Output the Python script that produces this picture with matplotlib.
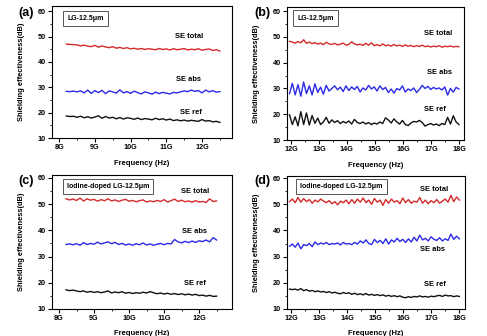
import numpy as np
import matplotlib
matplotlib.use("Agg")
import matplotlib.pyplot as plt
from matplotlib.ticker import MultipleLocator, FuncFormatter

plt.rcParams['font.family'] = ['Liberation Sans', 'DejaVu Sans']
plt.rcParams['font.weight'] = 'bold'

# ---------------- data ----------------
a_total = [47.0, 46.9, 46.8, 46.7, 46.3, 46.6, 46.2, 46.0, 46.5, 45.8, 46.3, 45.9, 45.6, 46.0, 45.4,
           45.7, 45.3, 45.6, 45.1, 45.4, 45.0, 45.3, 44.9, 45.2, 45.0, 44.8, 45.3, 44.9, 45.1, 44.7,
           45.2, 44.8, 45.0, 45.3, 44.7, 45.0, 44.8, 45.2, 44.6, 44.9, 45.1, 44.5, 44.8, 44.3]
a_abs = [28.4, 28.3, 28.5, 28.2, 28.6, 27.8, 28.9, 27.6, 28.7, 27.9, 28.8, 27.5, 28.6, 28.2, 27.7,
         29.0, 27.8, 28.3, 27.6, 28.5, 27.9, 27.4, 28.2, 27.8, 27.3, 28.1, 27.5, 28.0, 27.7, 27.4,
         28.0, 27.8, 28.2, 28.6, 28.3, 28.9, 28.4, 28.7, 27.8, 28.9, 28.2, 28.7, 28.1, 28.3]
a_ref = [18.7, 18.5, 18.6, 18.2, 18.6, 18.0, 18.4, 17.9, 18.3, 18.8, 17.8, 18.5, 17.9, 18.2, 17.6,
         18.1, 17.5, 18.0, 17.8, 17.4, 17.9, 17.3, 17.7, 17.5, 17.2, 17.8, 17.3, 17.6, 17.1, 17.5,
         16.9, 17.2, 16.8, 17.1, 16.7, 17.0, 16.8, 16.6, 17.3, 16.7, 16.9, 16.4, 16.6, 16.2]

b_total = [48.3, 48.0, 47.6, 48.2, 47.7, 48.9, 47.5, 48.0, 47.4, 47.8, 47.2, 47.6, 47.0, 47.9, 47.3,
           47.1, 47.5, 46.9, 47.2, 47.6, 46.8, 47.1, 48.1, 47.3, 46.9, 47.2, 46.7, 47.5, 46.8, 47.7,
           46.6, 47.0, 46.5, 47.3, 46.6, 46.9, 46.4, 47.1, 46.5, 46.8, 46.3, 46.9, 46.4, 46.7, 46.2,
           46.6, 46.3, 46.8, 46.2, 46.5, 46.1, 46.4, 46.2, 46.6, 46.0, 46.4, 46.2, 46.5, 46.1, 46.3, 46.2]
b_abs = [28.0, 32.0, 27.5, 31.5, 27.0, 32.5, 28.0, 31.0, 27.5, 31.8, 28.5, 30.5, 27.8, 31.2, 29.0,
         30.0, 31.0, 29.5, 30.5, 28.8, 31.0, 29.2, 30.6, 29.6, 30.8, 28.6, 30.2, 29.4, 31.2, 29.8,
         30.6, 29.0, 31.0, 29.6, 30.4, 28.4, 29.8, 28.2, 30.0, 29.4, 31.0, 28.6, 29.8, 29.2, 30.2,
         28.4, 29.6, 31.2, 30.0, 30.8, 29.6, 30.4, 29.8, 30.2, 29.4, 30.6, 27.4, 30.0, 28.6, 30.4, 29.8]
b_ref = [19.8, 16.0, 19.0, 15.5, 21.0, 16.0, 20.5, 15.8, 19.5, 16.5, 18.5, 16.0, 17.0, 18.8, 16.5,
         17.8, 16.8, 17.5, 16.4, 17.2, 16.6, 17.4, 16.2, 18.0, 16.8, 16.4, 17.0, 16.2, 16.8, 16.0,
         16.6, 16.2, 17.0, 16.4, 18.6, 17.8, 16.6, 18.2, 17.0, 16.2, 17.6, 16.0, 15.6, 16.6, 17.2,
         17.0, 17.6, 16.8, 15.4, 16.0, 16.4, 15.8, 16.2, 15.6, 16.4, 16.0, 18.8, 16.2, 19.4, 17.0, 16.0]

c_total = [52.0, 51.6, 51.9, 51.4, 52.3, 51.2, 52.0, 51.5, 51.8, 51.1, 51.7, 51.3, 52.0, 51.2, 51.6,
           51.0, 51.5, 51.8, 51.1, 51.4, 50.9, 51.3, 51.6, 50.8, 51.2, 50.9, 51.4, 51.0, 51.7, 50.8,
           51.3, 51.9, 51.0, 51.5, 50.9, 51.2, 50.7, 51.3, 50.8, 51.0, 50.6, 52.0, 51.0, 51.2]
c_abs = [34.6, 34.8, 34.5, 34.9, 34.3, 35.3, 34.6, 35.0, 34.7, 35.5, 34.8, 35.2, 35.6, 34.9, 35.4,
         34.6, 35.0, 34.4, 34.8, 34.3, 34.9, 34.5, 35.2, 34.4, 34.8, 34.3, 34.7, 35.0, 34.5, 35.0,
         34.8, 36.5, 35.6, 35.2, 35.8, 35.3, 35.9, 35.4, 36.0, 35.7, 36.3, 35.6, 37.2, 36.3]
c_ref = [17.3, 17.0, 17.2, 16.9, 16.6, 16.9, 16.4, 16.7, 16.3, 16.6, 16.2, 16.5, 16.9, 16.1, 16.5,
         16.2, 16.6, 16.0, 16.3, 15.9, 16.2, 16.0, 16.4, 16.1, 16.6, 16.2, 15.8, 16.1, 15.7, 16.0,
         15.6, 15.9, 15.5, 15.8, 15.4, 15.7, 15.3, 15.6, 15.1, 15.3, 14.9, 15.2, 14.8, 14.9]

d_total = [51.0, 52.0, 50.6, 52.6, 50.8, 52.2, 51.0, 51.8, 50.4, 51.6, 50.9, 52.0, 51.2, 50.6, 51.4,
           50.2, 51.0, 49.8, 51.2, 50.6, 51.6, 50.2, 51.8, 50.4, 52.0, 50.8, 52.4, 50.6, 51.6, 50.0,
           52.2, 50.8, 51.6, 49.6, 51.8, 50.4, 52.0, 50.8, 51.4, 50.2, 52.4, 50.6, 51.8, 50.4, 51.2,
           50.8, 52.6, 50.4, 51.6, 50.2, 51.4, 50.6, 51.8, 50.4, 51.2, 52.0, 50.8, 53.4, 51.0, 52.8, 51.6]
d_abs = [34.0, 34.8, 33.6, 35.2, 33.0, 34.6, 34.2, 35.0, 33.8, 35.6, 34.6, 35.2, 34.8, 35.4, 34.6,
         35.0, 34.8, 35.2, 34.5, 35.4, 34.8, 35.0, 34.6, 35.4, 34.8, 36.0, 35.2, 36.4, 35.0, 34.6,
         36.6, 35.4, 36.2, 35.0, 36.8, 34.8, 36.4, 35.6, 37.0, 35.8, 36.6, 35.4, 36.8, 35.6, 37.4,
         36.0, 38.2, 36.4, 37.0, 36.0, 37.6, 36.6, 36.2, 37.2, 36.0, 36.8, 36.2, 38.6, 36.6, 37.8, 36.8]
d_ref = [17.6, 17.4, 17.6, 17.2, 17.8, 17.0, 17.4, 16.8, 17.1, 16.6, 16.9, 16.5, 16.7, 16.3, 16.6,
         16.1, 16.4, 16.0, 15.8, 16.3, 15.9, 16.2, 15.6, 16.0, 15.5, 15.8, 15.4, 15.9, 15.3, 15.6,
         15.2, 15.5, 15.1, 15.4, 14.9, 15.2, 14.8, 15.1, 14.7, 15.0, 14.5, 14.3, 14.7, 14.4, 14.8,
         14.6, 15.0, 14.6, 14.8, 14.5, 14.9, 14.7, 15.0, 15.2, 14.8, 15.3, 15.0, 15.1, 14.7, 15.0, 14.8]

x_range_low = (8.2, 12.5)
x_range_high = (11.95, 18.0)
xticks_low = [8, 9, 10, 11, 12]
xticks_high = [12, 13, 14, 15, 16, 17, 18]
yticks = [10, 20, 30, 40, 50, 60]

RED = '#d42a2a'
BLUE = '#2a2ae6'
BLACK = '#111111'

panels = [
    dict(letter='(a)', rect=[0.1068, 0.589, 0.3696, 0.393], xr=x_range_low, xt=xticks_low,
         xlim=(7.8, 12.84), ylim=(10, 62), series=(a_total, a_abs, a_ref), box='LG-12.5μm',
         boxpos=(8.73, 57.2), labels=[(11.25, 50.2, 'SE total'), (11.27, 33.2, 'SE abs'), (11.38, 20.2, 'SE ref')],
         letterpos=(18, 13), ylabx=25, xlaby=160),
    dict(letter='(b)', rect=[0.5893, 0.5833, 0.3634, 0.3958], xr=x_range_high, xt=xticks_high,
         xlim=(11.86, 18.18), ylim=(10, 61.6), series=(b_total, b_abs, b_ref), box='LG-12.5μm',
         boxpos=(12.88, 57.3), labels=[(16.75, 51.4, 'SE total'), (16.86, 36.2, 'SE abs'), (16.75, 21.7, 'SE ref')],
         letterpos=(254, 13), ylabx=260, xlaby=162),
    dict(letter='(c)', rect=[0.1068, 0.0804, 0.3696, 0.3988], xr=x_range_low, xt=xticks_low,
         xlim=(7.8, 12.94), ylim=(10, 61.1), series=(c_total, c_abs, c_ref), box='Iodine-doped LG-12.5μm',
         boxpos=(9.4, 56.8), labels=[(11.47, 54.7, 'SE total'), (11.5, 39.4, 'SE abs'), (11.58, 19.9, 'SE ref')],
         letterpos=(18, 181), ylabx=25, xlaby=330),
    dict(letter='(d)', rect=[0.5893, 0.0804, 0.3655, 0.3958], xr=x_range_high, xt=xticks_high,
         xlim=(11.86, 18.2), ylim=(10, 60.8), series=(d_total, d_abs, d_ref), box='Iodine-doped LG-12.5μm',
         boxpos=(13.8, 56.8), labels=[(16.6, 55.8, 'SE total'), (16.6, 32.9, 'SE abs'), (16.75, 19.5, 'SE ref')],
         letterpos=(254, 181), ylabx=260, xlaby=330),
]

W, H = 487, 336
fig = plt.figure(figsize=(W / 100, H / 100), dpi=100)

for p in panels:
    ax = fig.add_axes(p['rect'])
    for vals, col in zip(p['series'], (RED, BLUE, BLACK)):
        x = np.linspace(p['xr'][0], p['xr'][1], len(vals))
        ax.plot(x, vals, color=col, lw=1.0)
    ax.set_xlim(*p['xlim'])
    ax.set_ylim(*p['ylim'])
    ax.set_xticks(p['xt'])
    ax.xaxis.set_major_formatter(FuncFormatter(lambda v, pos: f'{int(round(v))}G'))
    ax.set_yticks(yticks)
    ax.xaxis.set_minor_locator(MultipleLocator(0.5))
    ax.yaxis.set_minor_locator(MultipleLocator(5))
    ax.tick_params(which='major', direction='out', length=3, width=0.8, labelsize=5.2, pad=1.5)
    ax.tick_params(which='minor', direction='out', length=1.6, width=0.6)
    for lab in ax.get_xticklabels() + ax.get_yticklabels():
        lab.set_fontweight('bold')
    for s in ax.spines.values():
        s.set_linewidth(0.8)
    ax.set_ylabel('Shielding effectiveness(dB)', fontsize=5.4, fontweight='bold')
    ax.set_xlabel('Frequency (Hz)', fontsize=5.5, fontweight='bold')
    l, b, w, h = p['rect']
    ax.yaxis.set_label_coords((p['ylabx'] / W - l) / w, 0.5)
    ax.xaxis.set_label_coords(0.5, ((1 - p['xlaby'] / H) - b) / h)
    ax.text(p['boxpos'][0], p['boxpos'][1], p['box'], fontsize=5, fontweight='bold',
            ha='center', va='center',
            bbox=dict(boxstyle='square,pad=0.6', fc='white', ec='#555555', lw=0.7))
    for tx, ty, t in p['labels']:
        ax.text(tx, ty, t, fontsize=5.4, fontweight='bold', ha='left', va='center')
    fig.text(p['letterpos'][0] / W, 1 - p['letterpos'][1] / H, p['letter'], fontsize=9,
             fontweight='bold', ha='left', va='center')

fig.savefig('out.png', dpi=100)
